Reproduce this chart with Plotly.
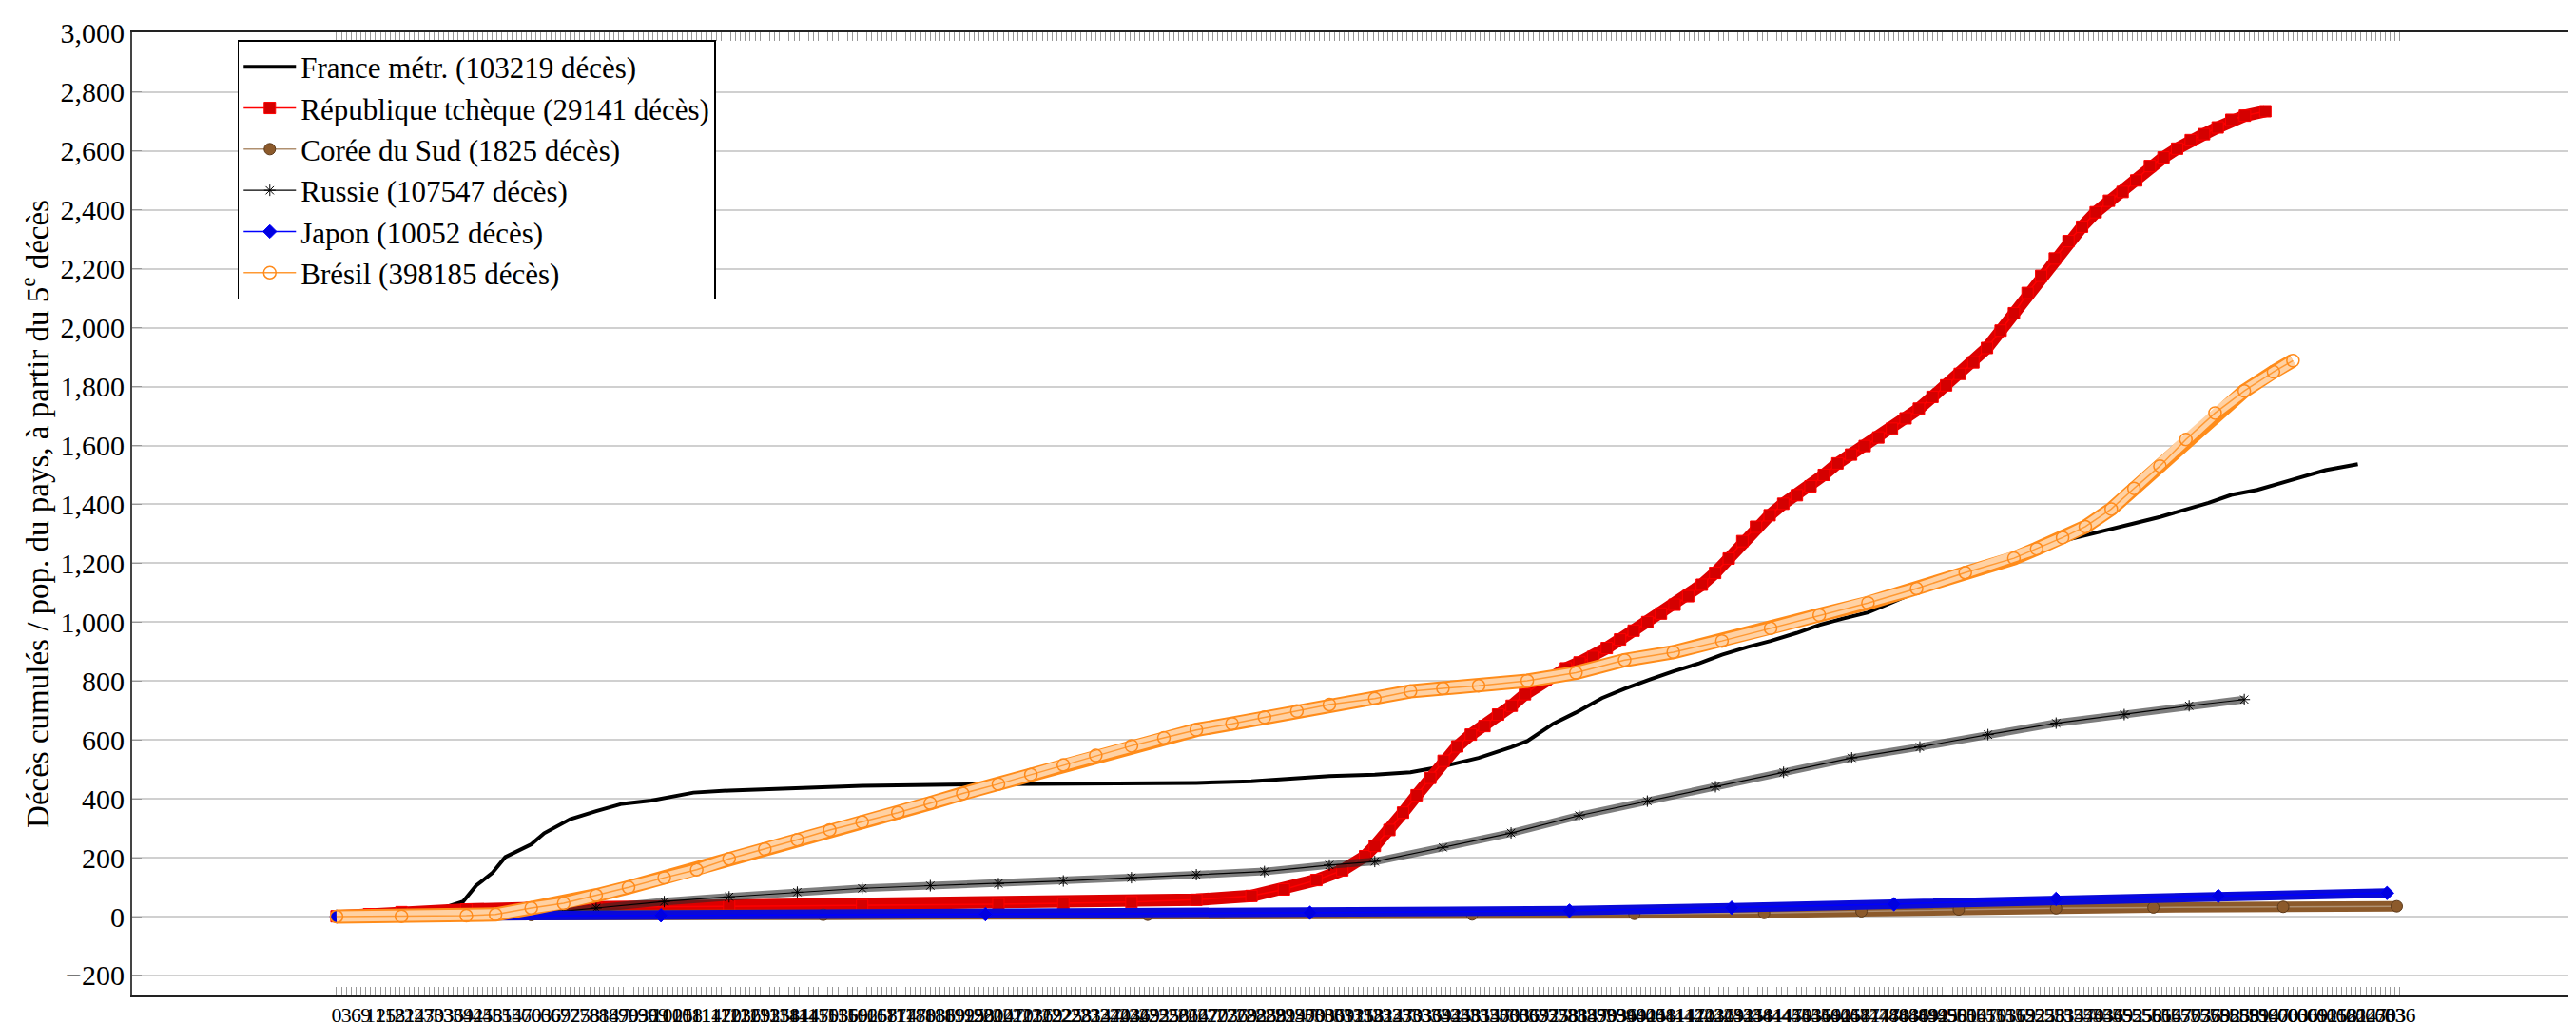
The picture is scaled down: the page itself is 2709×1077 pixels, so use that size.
import plotly.graph_objects as go

# days since 5th death (axis units) and cumulative deaths per million
france_x = [0, 10, 20, 28, 32, 39, 43, 48, 52, 60, 64, 72, 80, 88, 97, 105, 110, 121, 142, 162,
            204, 265, 282, 294, 306, 320, 331, 341, 352, 362, 367, 375, 382, 390, 397, 405, 412,
            420, 427, 435, 442, 450, 457, 464, 472, 479, 487, 494, 502, 509, 517, 524, 532, 539,
            547, 554, 562, 569, 577, 584, 592, 602, 613, 623]
france_y = [0, 2, 6, 12, 25, 51, 105, 148, 202, 245, 283, 331, 358, 383, 394, 409, 421, 428, 437, 444,
            450, 454, 459, 468, 477, 482, 490, 510, 539, 575, 596, 655, 693, 742, 774, 806, 833,
            860, 889, 916, 936, 963, 990, 1011, 1033, 1065, 1103, 1136, 1168, 1195, 1227, 1254, 1276, 1294,
            1314, 1335, 1357, 1378, 1405, 1432, 1449, 1481, 1516, 1536]

czech_x = [0, 10, 20, 40, 60, 80, 121, 162, 204, 224, 245, 265, 282, 292, 302, 310, 317, 320,
           324.5, 328.7, 332.9, 337.1, 341.2, 345.4, 349.6, 353.8, 358, 362.2, 366.3, 372.6, 378.9,
           383.1, 387.3, 391.5, 395.6, 399.8, 404, 408.2, 412.4, 416.6, 420.8, 424.9, 429.1, 433.3,
           437.5, 441.7, 445.9, 450.1, 454.3, 458.4, 462.6, 466.8, 471, 475.2, 479.4, 483.6, 487.7,
           491.9, 496.1, 500.3, 504.5, 508.7, 512.9, 517, 521.2, 525.4, 529.6, 533.8, 538, 542.2,
           546.3, 550.5, 554.7, 558.9, 563.1, 567.3, 571.5, 575.6, 579.8, 584, 588.2, 594.5]
czech_y = [1, 8, 15, 24, 29, 32, 35, 38, 42, 45, 49, 57, 70, 92, 124, 157, 205, 240,
           294, 353, 412, 471, 529, 578, 618, 647, 686, 716, 755, 804, 843,
           863, 882, 912, 941, 971, 1000, 1029, 1059, 1088, 1127, 1167, 1216, 1275,
           1324, 1363, 1402, 1431, 1461, 1500, 1539, 1569, 1598, 1627, 1657, 1692, 1725,
           1765, 1804, 1843, 1882, 1931, 1990, 2049, 2118, 2176, 2235, 2294, 2343, 2392,
           2431, 2461, 2500, 2549, 2578, 2608, 2637, 2657, 2680, 2706, 2720, 2735]

korea_x = [0, 30, 60, 150, 250, 350, 400, 440, 470, 500, 530, 560, 600, 635]
korea_y = [0, 3, 5, 6, 6, 7, 9, 12, 18, 24, 28, 31, 33, 35]

russia_x = [0, 30, 50, 70, 80, 101, 121, 142, 162, 183, 204, 224, 245, 265, 286, 306, 320,
            341, 362, 383, 404, 425, 446, 467, 488, 509, 530, 551, 571, 588]
russia_y = [0, 2, 8, 18, 29, 51, 67, 83, 96, 105, 112, 121, 132, 142, 153, 175, 187,
            235, 284, 343, 392, 441, 490, 539, 576, 618, 657, 686, 716, 737]

japan_x = [0, 100, 200, 300, 380, 430, 480, 530, 580, 632]
japan_y = [0, 4, 8, 13, 20, 30, 42, 60, 70, 80]

brazil_x = [0, 20, 40, 49, 60, 70, 80, 90, 101, 111, 121, 132, 142, 152, 162, 173, 183, 193,
            204, 214, 224, 234, 245, 255, 265, 276, 286, 296, 306, 320, 331, 341, 352, 367,
            382, 397, 412, 427, 442, 457, 472, 487, 502, 517, 524, 532, 539, 547, 554, 562,
            570, 579, 588, 597, 603]
brazil_y = [0, 1, 3, 7, 29, 45, 72, 99, 132, 159, 196, 229, 261, 294, 321, 353, 385, 418,
            450, 482, 515, 547, 580, 607, 634, 655, 677, 698, 720, 740, 765, 775, 784, 801,
            828, 871, 898, 936, 979, 1024, 1065, 1114, 1168, 1217, 1249, 1287, 1324, 1384, 1454, 1530,
            1620, 1710, 1785, 1850, 1888]

x_labels = list(range(0, 637, 3))
x_minor = [v + 1.5 for v in range(0, 636, 3)]

serif = "Liberation Serif"

fig = go.Figure()

# France: thick black line, no marks
fig.add_trace(go.Scatter(x=france_x, y=france_y, mode="lines",
                         line=dict(color="black", width=4),
                         name="France métr. (103219 décès)"))

# Czech: dense red squares -> thick band + squares
fig.add_trace(go.Scatter(x=czech_x, y=czech_y, mode="lines", showlegend=False, hoverinfo="skip",
                         line=dict(color="#dd0000", width=13)))
fig.add_trace(go.Scatter(x=czech_x, y=czech_y, mode="lines+markers",
                         line=dict(color="#ff0000", width=1.5),
                         marker=dict(symbol="square", size=12, color="#d40000",
                                     line=dict(color="#ff0000", width=1)),
                         name="République tchèque (29141 décès)"))

# South Korea: brown filled circles
fig.add_trace(go.Scatter(x=korea_x, y=korea_y, mode="lines", showlegend=False, hoverinfo="skip",
                         line=dict(color="#8c5a2b", width=11)))
fig.add_trace(go.Scatter(x=korea_x, y=korea_y, mode="lines+markers",
                         line=dict(color="#b09070", width=1.5),
                         marker=dict(symbol="circle", size=12, color="#8c5a2b",
                                     line=dict(color="#5c3a1b", width=1)),
                         name="Corée du Sud (1825 décès)"))

# Russia: black stars
fig.add_trace(go.Scatter(x=russia_x, y=russia_y, mode="lines", showlegend=False, hoverinfo="skip",
                         line=dict(color="rgba(40,40,40,0.6)", width=8)))
fig.add_trace(go.Scatter(x=russia_x, y=russia_y, mode="lines+markers",
                         line=dict(color="black", width=1.2),
                         marker=dict(symbol="asterisk-open", size=10, color="black",
                                     line=dict(color="black", width=1)),
                         name="Russie (107547 décès)"))

# Japan: blue diamonds
fig.add_trace(go.Scatter(x=japan_x, y=japan_y, mode="lines", showlegend=False, hoverinfo="skip",
                         line=dict(color="#0a0ad8", width=10)))
fig.add_trace(go.Scatter(x=japan_x, y=japan_y, mode="lines+markers",
                         line=dict(color="#0000ff", width=1.5),
                         marker=dict(symbol="diamond", size=11, color="#0000e0",
                                     line=dict(color="#0000ff", width=1)),
                         name="Japon (10052 décès)"))

# Brazil: orange open circles -> hollow orange tube + rings
fig.add_trace(go.Scatter(x=brazil_x, y=brazil_y, mode="lines", showlegend=False, hoverinfo="skip",
                         line=dict(color="#ff8c1a", width=15)))
fig.add_trace(go.Scatter(x=brazil_x, y=brazil_y, mode="lines", showlegend=False, hoverinfo="skip",
                         line=dict(color="rgba(255,255,255,0.6)", width=11)))
fig.add_trace(go.Scatter(x=brazil_x, y=brazil_y, mode="lines+markers",
                         line=dict(color="#ff9933", width=1.5),
                         marker=dict(symbol="circle-open", size=13, color="#ff8a1a",
                                     line=dict(width=1.5)),
                         name="Brésil (398185 décès)"))

fig.update_layout(
    width=2709, height=1077,
    margin=dict(l=131, r=0, t=26, b=38),
    plot_bgcolor="white", paper_bgcolor="white",
    font=dict(family=serif, color="black", size=30),
    showlegend=True,
    legend=dict(x=0.043, y=0.992, xanchor="left", yanchor="top",
                bgcolor="white", bordercolor="black", borderwidth=1.5,
                font=dict(family=serif, size=31), itemwidth=55,
                tracegroupgap=0),
)

fig.update_xaxes(
    range=[-63, 692],
    tickmode="array", tickvals=x_labels, tickangle=0,
    tickfont=dict(family=serif, size=22),
    ticks="inside", ticklen=9, tickwidth=1, tickcolor="#999999",
    minor=dict(tickmode="array", tickvals=x_minor, ticks="inside", ticklen=9,
               tickwidth=1, tickcolor="#999999", showgrid=False),
    showgrid=False, zeroline=False,
    showline=True, linecolor="#222222", linewidth=2, mirror="allticks",
)

fig.update_yaxes(
    range=[-268, 3003],
    tickmode="linear", tick0=0, dtick=200, tickformat=",d",
    tickfont=dict(family=serif, size=30),
    ticks="inside", ticklen=10, tickwidth=1, tickcolor="#999999",
    showgrid=True, gridcolor="#d0d0d0", gridwidth=1.5, zeroline=False,
    showline=True, linecolor="#444444", linewidth=2, mirror="ticks",
    title=dict(text="Décès cumulés / pop. du pays, à partir du 5<sup>e</sup> décès",
               font=dict(family=serif, size=33), standoff=2),
)

fig.write_html("out.html")
